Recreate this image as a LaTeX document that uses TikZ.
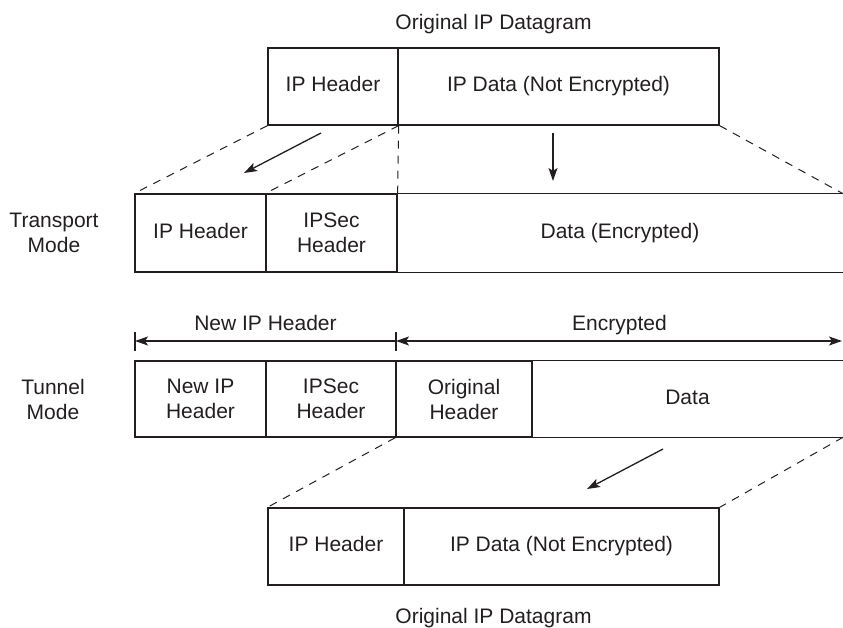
\documentclass[tikz,border=0pt]{standalone}
\usepackage{fontspec}
\setmainfont{Liberation Sans}
\usetikzlibrary{arrows.meta}
\definecolor{ink}{HTML}{231F20}
\begin{document}
\begin{tikzpicture}[x=1pt,y=-1pt,
  every node/.style={text=ink,font=\fontsize{21}{25}\selectfont},
  cell/.style={draw=ink,line width=1.3pt,inner sep=0pt,align=center,minimum height=#1},
  opencell/.style={inner sep=0pt,align=center,minimum height=#1},
  oneline/.style={text height=15pt,text depth=4.5pt},
  dash line/.style={draw=ink,line width=1pt,dash pattern=on 8pt off 7pt},
  move/.style={draw=ink,line width=1.3pt,-{Stealth[length=13pt,width=9pt,inset=3pt]}},
  dimarrow/.style={draw=ink,line width=1.3pt},
  tick/.style={draw=ink,line width=1.1pt}]
\useasboundingbox (0,0) rectangle (843,628);

% original datagram (top)
\node[anchor=base] (origtop) at (493.5,30) {Original IP Datagram};
\node[cell=77pt,oneline,minimum width=130pt] (oh) at (333,86.5) {IP Header};
\node[cell=77pt,oneline,minimum width=321pt] (od) at (558.5,86.5) {IP Data (Not Encrypted)};

% transport mode
\node[align=center] (trlabel) at (54,233) {Transport\\Mode};
\node[cell=78pt,oneline,minimum width=131pt] (th) at (200.5,233) {IP Header};
\node[cell=78pt,minimum width=131pt] (ts) at (331.5,233) {IPSec\\Header};
\node[opencell=78pt,oneline,minimum width=446pt] (td) at (620,233) {Data (Encrypted)};
\draw[ink,line width=1.3pt] (td.north west) -- (td.north east);
\draw[ink,line width=1.3pt] (td.south west) -- (td.south east);

% dashed projections top -> transport
\draw[dash line] (oh.south west) -- (th.north west);
\draw[dash line] (oh.south east) -- (ts.north west);
\draw[dash line] (oh.south east) -- (ts.north east);
\draw[dash line] (od.south east) -- (td.north east);

% movement arrows
\coordinate (a1s) at (321,133);
\coordinate (a1e) at (244,173);
\draw[move] (a1s) -- (a1e);
\coordinate (a2s) at (553,133);
\coordinate (a2e) at (553,181);
\draw[move] (a2s) -- (a2e);

% tunnel mode
\node[align=center] (tnlabel) at (53,399) {Tunnel\\Mode};
\node[cell=76pt,minimum width=131pt] (nh) at (200.5,399) {New IP\\Header};
\node[cell=76pt,minimum width=130pt] (ns) at (331,399) {IPSec\\Header};
\node[cell=76pt,minimum width=136pt] (no) at (464,399) {Original\\Header};
\node[opencell=76pt,oneline,minimum width=311pt] (nd) at (687.5,399) {Data};
\draw[ink,line width=1.3pt] (nd.north west) -- (nd.north east);
\draw[ink,line width=1.3pt] (nd.south west) -- (nd.south east);

% dimension lines
\coordinate (dl) at (135,341);
\coordinate (dm) at (396,341);
\coordinate (dr) at (842,341);
\coordinate (dlt) at (135,332);
\coordinate (dlb) at (135,351);
\coordinate (dmt) at (396,332);
\coordinate (dmb) at (396,351);
\draw[tick] (dlt) -- (dlb);
\draw[tick] (dmt) -- (dmb);
\draw[dimarrow,{Stealth[length=13pt,width=9pt,inset=3pt]}-] (dl) -- (dm);
\draw[dimarrow,{Stealth[length=13pt,width=9pt,inset=3pt]}-{Stealth[length=13pt,width=9pt,inset=3pt]}] (dm) -- (dr);
\node[anchor=base] (newiplbl) at (265.5,330) {New IP Header};
\node[anchor=base] (enclbl) at (619.5,330) {Encrypted};

% original datagram (bottom)
\node[cell=77pt,oneline,minimum width=136pt] (bh) at (336,546.5) {IP Header};
\node[cell=77pt,oneline,minimum width=315pt] (bd) at (561.5,546.5) {IP Data (Not Encrypted)};
\node[anchor=base] (origbot) at (493.5,623) {Original IP Datagram};

% dashed projections tunnel -> bottom
\draw[dash line] (no.south west) -- (bh.north west);
\draw[dash line] (nd.south east) -- (bd.north east);

\coordinate (a3s) at (663,449);
\coordinate (a3e) at (587,489);
\draw[move] (a3s) -- (a3e);
\end{tikzpicture}
\end{document}
